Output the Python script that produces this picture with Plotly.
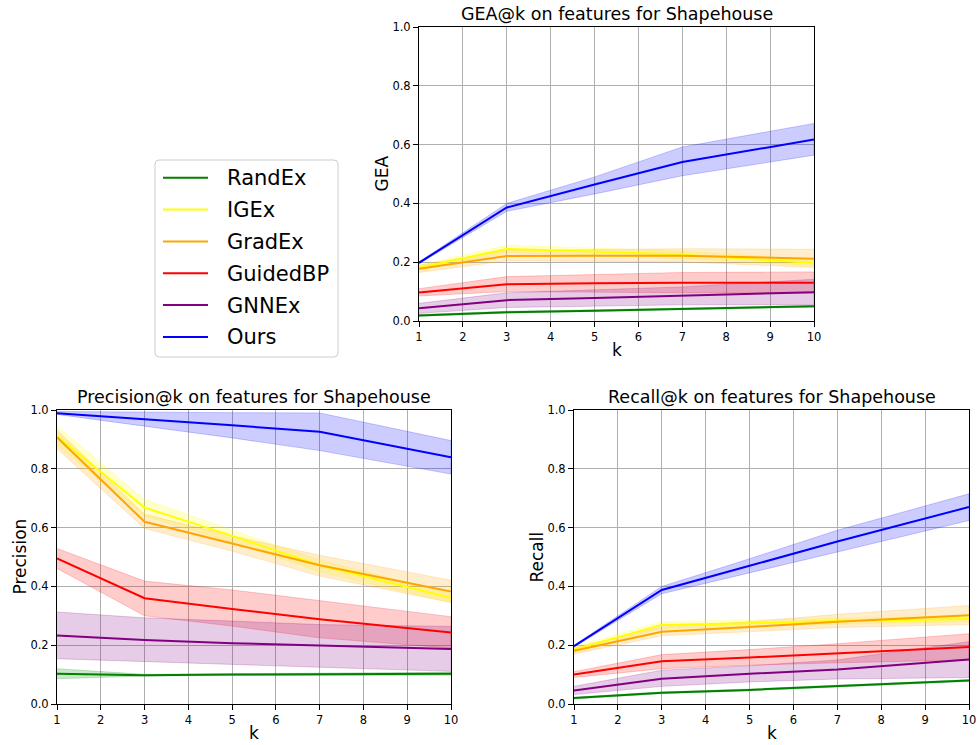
import plotly.graph_objects as go

K = [1, 3, 5, 7, 10]
methods = ["RandEx", "IGEx", "GradEx", "GuidedBP", "GNNEx", "Ours"]
colors = ["#008000", "#ffff00", "#ffa500", "#ff0000", "#800080", "#0000ff"]
fills = ["rgba(0,128,0,0.2)", "rgba(255,255,0,0.2)", "rgba(255,165,0,0.2)",
         "rgba(255,0,0,0.2)", "rgba(128,0,128,0.2)", "rgba(0,0,255,0.2)"]

gea_mean = [[0.019, 0.030, 0.035, 0.041, 0.050],
            [0.181, 0.245, 0.236, 0.225, 0.198],
            [0.178, 0.221, 0.222, 0.222, 0.212],
            [0.097, 0.125, 0.128, 0.130, 0.130],
            [0.043, 0.071, 0.078, 0.086, 0.098],
            [0.198, 0.386, 0.464, 0.541, 0.617]]
gea_lo = [[0.016, 0.027, 0.032, 0.038, 0.047],
          [0.172, 0.232, 0.224, 0.212, 0.188],
          [0.165, 0.205, 0.203, 0.201, 0.182],
          [0.085, 0.100, 0.098, 0.096, 0.095],
          [0.026, 0.046, 0.051, 0.055, 0.056],
          [0.195, 0.373, 0.432, 0.494, 0.564]]
gea_hi = [[0.022, 0.033, 0.038, 0.044, 0.053],
          [0.190, 0.258, 0.248, 0.238, 0.208],
          [0.190, 0.240, 0.243, 0.246, 0.244],
          [0.110, 0.151, 0.158, 0.165, 0.167],
          [0.060, 0.096, 0.106, 0.116, 0.142],
          [0.201, 0.400, 0.490, 0.592, 0.672]]

prec_mean = [[0.103, 0.098, 0.100, 0.101, 0.103],
             [0.911, 0.668, 0.572, 0.472, 0.361],
             [0.907, 0.620, 0.546, 0.472, 0.383],
             [0.495, 0.360, 0.323, 0.288, 0.243],
             [0.233, 0.218, 0.207, 0.198, 0.187],
             [0.989, 0.969, 0.948, 0.926, 0.839]]
prec_lo = [[0.086, 0.095, 0.097, 0.098, 0.098],
           [0.880, 0.639, 0.550, 0.450, 0.345],
           [0.868, 0.597, 0.520, 0.435, 0.345],
           [0.461, 0.300, 0.265, 0.225, 0.190],
           [0.154, 0.145, 0.135, 0.125, 0.111],
           [0.985, 0.945, 0.905, 0.862, 0.782]]
prec_hi = [[0.120, 0.101, 0.103, 0.104, 0.108],
           [0.945, 0.696, 0.592, 0.490, 0.376],
           [0.932, 0.645, 0.572, 0.506, 0.421],
           [0.529, 0.418, 0.388, 0.351, 0.297],
           [0.313, 0.293, 0.282, 0.270, 0.264],
           [0.995, 0.992, 0.991, 0.990, 0.896]]

rec_mean = [[0.020, 0.038, 0.048, 0.060, 0.080],
            [0.185, 0.269, 0.275, 0.282, 0.289],
            [0.181, 0.246, 0.262, 0.280, 0.302],
            [0.100, 0.145, 0.158, 0.172, 0.194],
            [0.046, 0.086, 0.103, 0.117, 0.151],
            [0.197, 0.388, 0.470, 0.553, 0.670]]
rec_lo = [[0.017, 0.035, 0.045, 0.057, 0.077],
          [0.175, 0.257, 0.264, 0.272, 0.280],
          [0.170, 0.232, 0.245, 0.260, 0.270],
          [0.090, 0.120, 0.132, 0.140, 0.150],
          [0.032, 0.060, 0.075, 0.085, 0.090],
          [0.194, 0.375, 0.445, 0.517, 0.624]]
rec_hi = [[0.023, 0.041, 0.051, 0.063, 0.083],
          [0.195, 0.280, 0.286, 0.292, 0.300],
          [0.191, 0.262, 0.280, 0.305, 0.335],
          [0.110, 0.168, 0.185, 0.205, 0.239],
          [0.060, 0.115, 0.130, 0.150, 0.212],
          [0.200, 0.400, 0.494, 0.591, 0.715]]

titles = ["GEA@k on features for Shapehouse",
          "Precision@k on features for Shapehouse",
          "Recall@k on features for Shapehouse"]
ylabels = ["GEA", "Precision", "Recall"]
x_ticks = list(range(1, 11))
y_ticks = [0.0, 0.2, 0.4, 0.6, 0.8, 1.0]

W, H = 978, 745
# axes boxes in pixels: left, right, top, bottom
boxes = [(419, 814, 27, 321), (57, 451, 410, 704), (574, 969, 410, 704)]

FONT = "DejaVu Sans"
fig = go.Figure()

datasets = [(gea_mean, gea_lo, gea_hi), (prec_mean, prec_lo, prec_hi), (rec_mean, rec_lo, rec_hi)]
for ai, (mean, lo, hi) in enumerate(datasets):
    xa = "x" if ai == 0 else f"x{ai+1}"
    ya = "y" if ai == 0 else f"y{ai+1}"
    for mi, name in enumerate(methods):
        fig.add_trace(go.Scatter(
            x=K + K[::-1], y=hi[mi] + lo[mi][::-1], fill="toself",
            fillcolor=fills[mi], line=dict(color=fills[mi], width=1),
            mode="lines", showlegend=False, hoverinfo="skip", xaxis=xa, yaxis=ya))
    for mi, name in enumerate(methods):
        fig.add_trace(go.Scatter(
            x=K, y=mean[mi], mode="lines", name=name,
            line=dict(color=colors[mi], width=2),
            showlegend=False, legendgroup=name, xaxis=xa, yaxis=ya))

layout = dict(
    width=W, height=H, margin=dict(l=0, r=0, t=0, b=0, autoexpand=False),
    paper_bgcolor="white", plot_bgcolor="white",
    font=dict(family=FONT, color="black"),
    showlegend=False,
)
annotations = []
shapes = []
for ai, (l, r, t, b) in enumerate(boxes):
    sx = "" if ai == 0 else str(ai + 1)
    common = dict(showline=True, mirror=True, linecolor="black", linewidth=1,
                  showgrid=True, gridcolor="#b0b0b0", gridwidth=1, zeroline=False,
                  ticks="outside", ticklen=5, tickwidth=1, tickcolor="black",
                  automargin=False,
                  tickfont=dict(size=11.5, family=FONT, color="black"))
    layout["xaxis" + sx] = dict(domain=[l / W, r / W], range=[1, 10], anchor="y" + sx,
                                tickmode="array", tickvals=x_ticks,
                                ticktext=[str(v) for v in x_ticks], **common)
    layout["yaxis" + sx] = dict(domain=[1 - b / H, 1 - t / H], range=[0, 1], anchor="x" + sx,
                                tickmode="array", tickvals=y_ticks,
                                ticktext=[f"{v:.1f}" for v in y_ticks], **common)
    cx = (l + r) / 2
    annotations.append(dict(text=titles[ai], x=cx / W, y=1 - (t - 13) / H, xref="paper", yref="paper",
                            showarrow=False, xanchor="center", yanchor="middle",
                            font=dict(size=17.5, family=FONT, color="black")))
    annotations.append(dict(text="k", x=cx / W, y=1 - (b + 29) / H, xref="paper", yref="paper",
                            showarrow=False, xanchor="center", yanchor="middle",
                            font=dict(size=17, family=FONT, color="black")))
    annotations.append(dict(text=ylabels[ai], x=(l - 37.5) / W, y=1 - ((t + b) / 2) / H,
                            xref="paper", yref="paper", textangle=-90,
                            showarrow=False, xanchor="center", yanchor="middle",
                            font=dict(size=17, family=FONT, color="black")))

# legend drawn as a framed box (matplotlib-style)
LX0, LX1, LY0, LY1, R = 155, 338, 160, 357, 4
px = lambda v: v / W
py = lambda v: 1 - v / H
path = (f"M {px(LX0 + R)},{py(LY0)} L {px(LX1 - R)},{py(LY0)} "
        f"Q {px(LX1)},{py(LY0)} {px(LX1)},{py(LY0 + R)} L {px(LX1)},{py(LY1 - R)} "
        f"Q {px(LX1)},{py(LY1)} {px(LX1 - R)},{py(LY1)} L {px(LX0 + R)},{py(LY1)} "
        f"Q {px(LX0)},{py(LY1)} {px(LX0)},{py(LY1 - R)} L {px(LX0)},{py(LY0 + R)} "
        f"Q {px(LX0)},{py(LY0)} {px(LX0 + R)},{py(LY0)} Z")
shapes.append(dict(type="path", path=path, xref="paper", yref="paper",
                   line=dict(color="#cccccc", width=1), fillcolor="rgba(255,255,255,0.8)"))
row0, step = 177.7, 31.85
for mi, name in enumerate(methods):
    yy = row0 + mi * step
    shapes.append(dict(type="line", xref="paper", yref="paper",
                       x0=px(163), x1=px(208), y0=py(yy), y1=py(yy),
                       line=dict(color=colors[mi], width=2)))
    annotations.append(dict(text=name, x=px(225), y=py(yy + 0.5), xref="paper", yref="paper",
                            showarrow=False, xanchor="left", yanchor="middle",
                            font=dict(size=21, family=FONT, color="black")))

layout["annotations"] = annotations
layout["shapes"] = shapes
fig.update_layout(**layout)
fig.write_html("out.html")
